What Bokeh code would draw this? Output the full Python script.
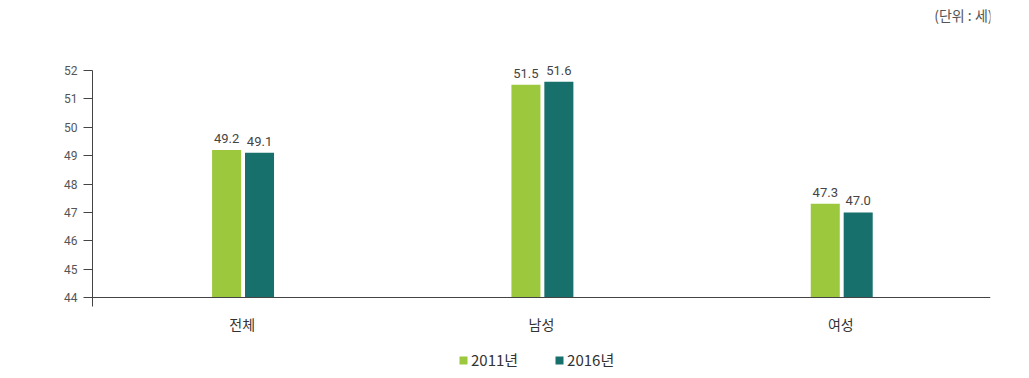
from bokeh.plotting import figure
from bokeh.models import ColumnDataSource, Legend, LegendItem, Label, FixedTicker, Range1d
from bokeh.transform import dodge
from bokeh.core.properties import value
from bokeh.embed import file_html
from bokeh.resources import INLINE

categories = ["전체", "남성", "여성"]
series_names = ["2011년", "2016년"]
values_2011 = [49.2, 51.5, 47.3]
values_2016 = [49.1, 51.6, 47.0]
labels_2011 = ["49.2", "51.5", "47.3"]
labels_2016 = ["49.1", "51.6", "47.0"]
y_ticks = [44, 45, 46, 47, 48, 49, 50, 51, 52]

GREEN = "#9BC83C"
TEAL = "#17706B"
KFONT = "Noto Sans CJK KR"
NFONT = "Roboto"

PX = 28.375  # pixels per year on the value axis
src = ColumnDataSource(dict(cat=categories, v11=values_2011, v16=values_2016,
                            l11=labels_2011, l16=labels_2016))

p = figure(x_range=categories, y_range=Range1d(44 - 81 / PX, 44 + 297 / PX),
           width=1029, height=378,
           output_backend="svg", toolbar_location=None,
           min_border_left=92, min_border_right=39, min_border_top=0, min_border_bottom=0)
p.outline_line_color = None
p.background_fill_color = "white"
p.border_fill_color = "white"
p.grid.visible = False

r1 = p.vbar(x=dodge("cat", -0.052, range=p.x_range), top="v11", bottom=44, width=0.097,
            source=src, fill_color=GREEN, line_color=None)
r2 = p.vbar(x=dodge("cat", 0.058, range=p.x_range), top="v16", bottom=44, width=0.097,
            source=src, fill_color=TEAL, line_color=None)

p.text(x=dodge("cat", -0.052, range=p.x_range), y="v11", text="l11", source=src,
       y_offset=-7, text_align="center", text_baseline="bottom",
       text_font=value(NFONT), text_font_size="13px", text_color="#444444")
p.text(x=dodge("cat", 0.058, range=p.x_range), y="v16", text="l16", source=src,
       y_offset=-7, text_align="center", text_baseline="bottom",
       text_font=value(NFONT), text_font_size="13px", text_color="#444444")

# axes
p.yaxis.ticker = FixedTicker(ticks=y_ticks)
p.yaxis.bounds = (43.7, 52)
p.yaxis.minor_tick_line_color = None
p.yaxis.major_tick_in = 0
p.yaxis.major_tick_out = 9
p.yaxis.axis_line_color = "#444444"
p.yaxis.major_tick_line_color = "#444444"
p.yaxis.major_label_text_font = NFONT
p.yaxis.major_label_text_font_size = "12px"
p.yaxis.major_label_text_color = "#555555"
p.yaxis.major_label_standoff = 6

p.xaxis.fixed_location = 44
p.xaxis.axis_line_color = "#444444"
p.xaxis.major_tick_line_color = None
p.xaxis.minor_tick_line_color = None
p.xaxis.major_label_text_font = KFONT
p.xaxis.major_label_text_font_size = "14px"
p.xaxis.major_label_text_color = "#333333"
p.xaxis.major_label_standoff = 10

legend = Legend(items=[LegendItem(label=series_names[0], renderers=[r1]),
                       LegendItem(label=series_names[1], renderers=[r2])],
                orientation="horizontal", location=(366, 8),
                label_text_font=KFONT, label_text_font_size="15px", label_text_color="#333333",
                glyph_width=10, glyph_height=10, label_standoff=3, spacing=36,
                border_line_color=None, background_fill_alpha=0, padding=4, margin=0)
p.add_layout(legend, "center")

unit = Label(x=900, y=364, x_units="screen", y_units="screen", text="(단위 : 세)",
             text_align="right", text_baseline="middle", text_font=KFONT,
             text_font_size="14px", text_color="#555555")
p.add_layout(unit)

open("out.html", "w").write(file_html(p, INLINE))
